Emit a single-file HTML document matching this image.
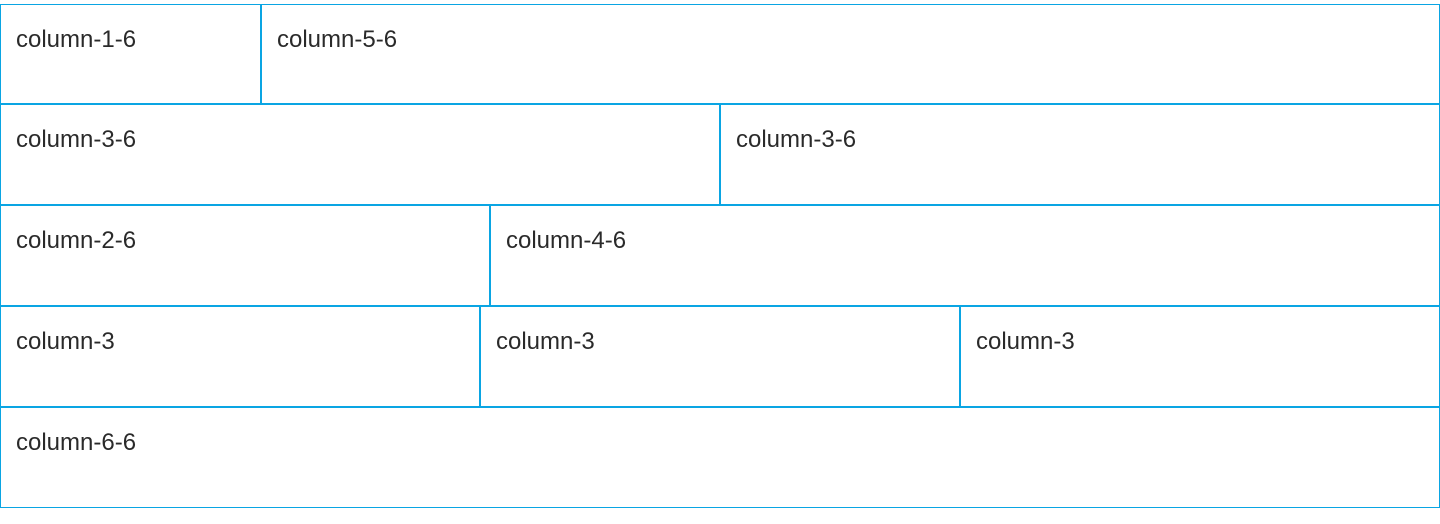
<!DOCTYPE html>
<html><head><meta charset="utf-8"><style>
html,body{margin:0;padding:0;background:#fff;width:1440px;height:524px;overflow:hidden}
.b{position:absolute;box-sizing:border-box;border:1px solid #0aa5e3;font-family:"Liberation Sans",Helvetica,Arial,sans-serif;font-size:24px;line-height:24px;color:#2a2a2a;padding:23px 0 0 15px;font-weight:normal;letter-spacing:0}
</style></head><body>
<div class="b" style="left:0;top:4px;width:261px;height:100px">column-1-6</div>
<div class="b" style="left:261px;top:4px;width:1179px;height:100px">column-5-6</div>
<div class="b" style="left:0;top:104px;width:720px;height:101px">column-3-6</div>
<div class="b" style="left:720px;top:104px;width:720px;height:101px">column-3-6</div>
<div class="b" style="left:0;top:205px;width:490px;height:101px">column-2-6</div>
<div class="b" style="left:490px;top:205px;width:950px;height:101px">column-4-6</div>
<div class="b" style="left:0;top:306px;width:480px;height:101px">column-3</div>
<div class="b" style="left:480px;top:306px;width:480px;height:101px">column-3</div>
<div class="b" style="left:960px;top:306px;width:480px;height:101px">column-3</div>
<div class="b" style="left:0;top:407px;width:1440px;height:101px">column-6-6</div>
</body></html>
